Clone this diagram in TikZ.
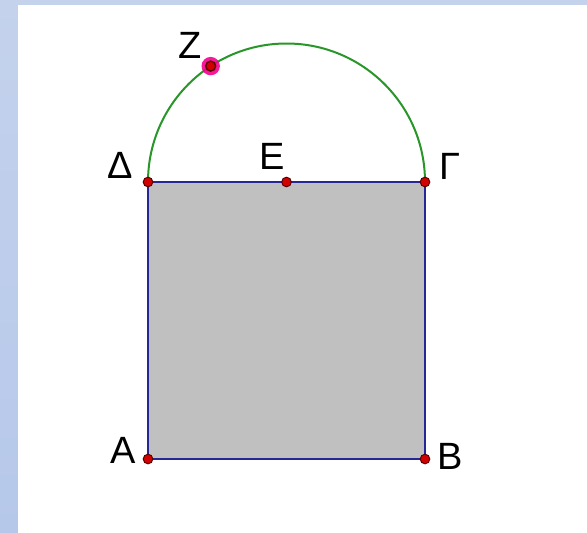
\documentclass[tikz,border=0pt]{standalone}
\usepackage{fontspec}
\setmainfont{Liberation Sans}
\usepackage{xcolor}

\definecolor{bandblue}{RGB}{196,210,236}
\definecolor{bandblue2}{RGB}{182,200,234}
\definecolor{sqfill}{RGB}{192,192,192}
\definecolor{sqline}{RGB}{38,38,150}
\definecolor{arcgreen}{RGB}{40,150,40}
\definecolor{ptred}{RGB}{210,0,0}
\definecolor{ptrim}{RGB}{90,0,0}
\definecolor{halo}{RGB}{245,0,140}

\begin{document}
\begin{tikzpicture}[x=0.5pt,y=0.5pt,
    pt/.style={circle,fill=ptred,draw=ptrim,line width=0.5pt,inner sep=0pt,minimum size=4.8pt},
    lbl/.style={font=\fontsize{19}{21}\selectfont,text=black,inner sep=0pt}]
  \useasboundingbox (0,0) rectangle (587,532);
  \shade[top color=bandblue,bottom color=bandblue2] (0,0) rectangle (587,532);
  \fill[white] (18,-5) rectangle (592,527);

  \node (A) at (148,73) {};
  \node (B) at (425,73) {};
  \node (G) at (425,350) {};
  \node (D) at (148,350) {};
  \node (E) at (286.5,350) {};
  \node (Z) at (210.7,465.9) {};

  \filldraw[fill=sqfill,draw=sqline,line width=1.2pt] (A.center) -- (B.center) -- (G.center) -- (D.center) -- cycle;
  \draw[arcgreen,line width=1pt] (G.center) arc[start angle=0,end angle=180,radius=138.5];

  \fill[halo,opacity=0.9] (Z.center) circle (4.6pt);
  \node[pt,minimum size=5pt,line width=0.7pt] at (Z.center) {};
  \foreach \p in {A,B,G,D,E} \node[pt] at (\p.center) {};

  \node[lbl] (lZ) at (190,487) {Z};
  \node[lbl] (lD) at (120,367) {Δ};
  \node[lbl] (lE) at (272,376) {Ε};
  \node[lbl] (lG) at (450,366) {Γ};
  \node[lbl] (lA) at (123,82) {Α};
  \node[lbl] (lB) at (450,76) {Β};
\end{tikzpicture}
\end{document}
